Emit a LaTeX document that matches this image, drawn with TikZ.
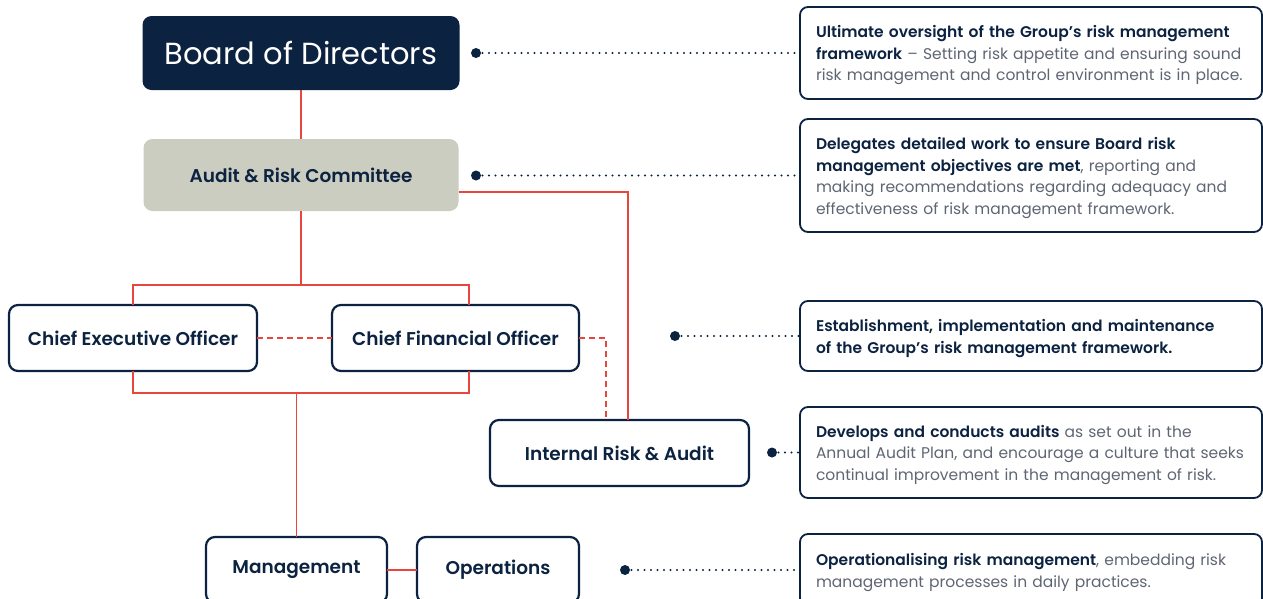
\documentclass[tikz,border=0pt]{standalone}
\usepackage{fontspec}
\setmainfont{Poppins}[BoldFont={Poppins SemiBold}]
\usepackage{xcolor}
\usepackage{tikz}
\usetikzlibrary{positioning,calc}
\definecolor{navy}{HTML}{0B2240}
\definecolor{riskred}{HTML}{E8453C}
\definecolor{stone}{HTML}{CCCDC1}
\definecolor{slate}{HTML}{5F6673}
\newcommand{\hl}[1]{\textcolor{navy}{\bfseries #1}}
\tikzset{
  unit/.style={rounded corners=9pt, draw=navy, line width=2.2pt, fill=white, text=navy, align=center,
    inner sep=0pt, outer sep=0pt, minimum height=66pt, font=\bfseries\fontsize{18.5}{22}\selectfont},
  boardbox/.style={unit, draw=none, fill=navy, text=white, font=\mdseries\fontsize{30.5}{36}\selectfont},
  committee/.style={unit, draw=none, fill=stone},
  note/.style={rounded corners=8pt, draw=navy, line width=1.8pt, fill=white, text=slate, align=left,
    text width=430pt, inner xsep=16pt, inner ysep=0pt, outer sep=0pt, anchor=west,
    font=\fontsize{15.5}{21.5}\selectfont, execute at begin node={\rule{0pt}{17pt}}},
  link/.style={draw=riskred, line width=1.7pt},
  dashlink/.style={link, dash pattern=on 6pt off 4pt},
  dotlink/.style={draw=navy, line width=2.2pt, line cap=round, dash pattern=on 0pt off 6.5pt},
  pin/.style={circle, fill=navy, inner sep=0pt, minimum size=10pt}
}

\begin{document}
\begin{tikzpicture}[x=1pt, y=-1pt]
\useasboundingbox (0,0) rectangle (1263,598);
\clip (0,0) rectangle (1263,598);

% structure
\node (board) [boardbox, minimum width=317pt, minimum height=74pt] at (301,53) {Board of Directors};
\node (arc) [committee, minimum width=315pt, minimum height=72pt] at (301,175) {Audit \& Risk Committee};
\node (ceo) [unit, minimum width=248pt] at (133,338) {Chief Executive Officer};
\node (cfo) [unit, minimum width=247pt] at (455.5,338) {Chief Financial Officer};
\node (ira) [unit, minimum width=259pt] at (619.5,453) {Internal Risk \& Audit};
\node (mgmt) [unit, minimum width=181pt] at (296.5,570) {Management};
\node (ops) [unit, minimum width=162pt] at (498,570) {Operations};

% notes
\node (n1) [note, minimum height=92pt] at (800,53)
{\hl{Ultimate oversight of the Group’s risk management}\\
\hl{framework} – Setting risk appetite and ensuring sound\\
risk management and control environment is in place.};
\node (n2) [note, minimum height=113pt] at (800,175.5)
{\hl{Delegates detailed work to ensure Board risk}\\
\hl{management objectives are met}, reporting and\\
making recommendations regarding adequacy and\\
effectiveness of risk management framework.};
\node (n3) [note, minimum height=70pt] at (800,336)
{\hl{Establishment, implementation and maintenance}\\
\hl{of the Group’s risk management framework.}};
\node (n4) [note, minimum height=91pt] at (800,452.5)
{\hl{Develops and conducts audits} as set out in the\\
Annual Audit Plan, and encourage a culture that seeks\\
continual improvement in the management of risk.};
\node (n5) [note, minimum height=72pt] at (800,570)
{\hl{Operationalising risk management}, embedding risk\\
management processes in daily practices.};

% reporting lines
\draw[link] (board) -- (arc);
\draw[link] (arc.south) -- ++(0,74) coordinate (tbar);
\draw[link] (ceo.north) |- (tbar) -| ([xshift=13.5pt]cfo.north);
\draw[link] (ceo.south) -- ++(0,22) -| ([xshift=13.5pt]cfo.south);
\draw[link] (mgmt.north) -- ++(0,-144);
\draw[link] (mgmt) -- (ops);
\draw[link] ([yshift=-17pt]arc.east) -| ([xshift=8.5pt]ira.north);
\draw[dashlink] (ceo) -- (cfo);
\draw[dashlink] (cfo.east) -| ([xshift=-13.5pt]ira.north);

% pins
\node (p1) [pin] at (476,53) {};
\node (p2) [pin] at (476,175.5) {};
\node (p3) [pin] at (675,336) {};
\node (p4) [pin] at (772,452.5) {};
\node (p5) [pin] at (625,570) {};

\foreach \pin/\target in {p1/n1, p2/n2, p3/n3, p4/n4, p5/n5}{
  \draw[dotlink] (\pin.center) -- (\target.west);
}

\end{tikzpicture}
\end{document}
